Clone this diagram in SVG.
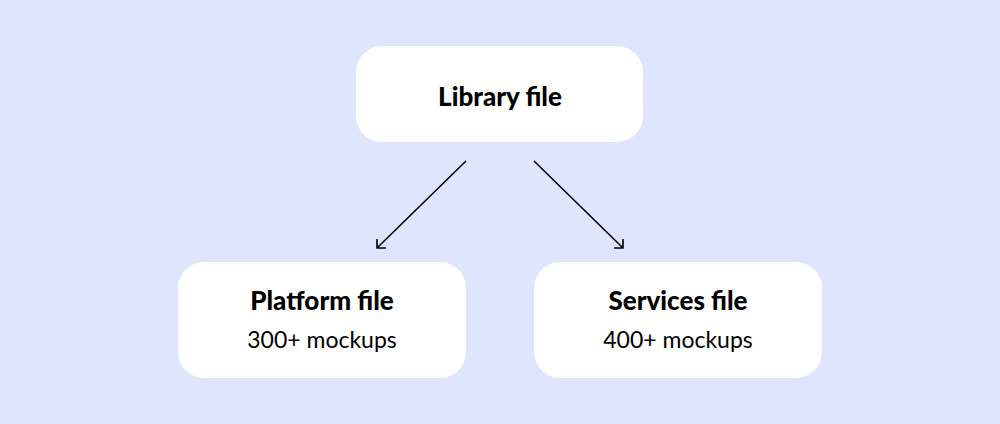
<svg xmlns="http://www.w3.org/2000/svg" width="1000" height="424" viewBox="0 0 1000 424">
<style>
.box{fill:#ffffff}
.t{font-family:Lato,"Open Sans","Liberation Sans",sans-serif;font-weight:900;font-size:26px;fill:#000;text-anchor:middle}
.s{font-family:Lato,"Open Sans","Liberation Sans",sans-serif;font-weight:400;font-size:23px;fill:#000;text-anchor:middle}
.c{stroke:#000;stroke-width:1.6;fill:none}
</style>
<rect width="1000" height="424" fill="#dfe5fd"/>
<g id="library">
<rect class="box" x="356" y="46" width="287" height="96" rx="26"/>
<text class="t" x="500" y="106">Library file</text>
</g>
<g id="platform">
<rect class="box" x="178" y="262" width="288" height="116" rx="26"/>
<text class="t" x="322" y="310">Platform file</text>
<text class="s" x="322" y="348">300+ mockups</text>
</g>
<g id="services">
<rect class="box" x="534" y="262" width="288" height="116" rx="26"/>
<text class="t" x="678" y="310">Services file</text>
<text class="s" x="678" y="348">400+ mockups</text>
</g>
<g id="connectors">
<path class="c" d="M466 161 L377 248 M377 239 L377 248 L386 248"/>
<path class="c" d="M534 161 L623 248 M623 239 L623 248 L614 248"/>
</g>
</svg>
